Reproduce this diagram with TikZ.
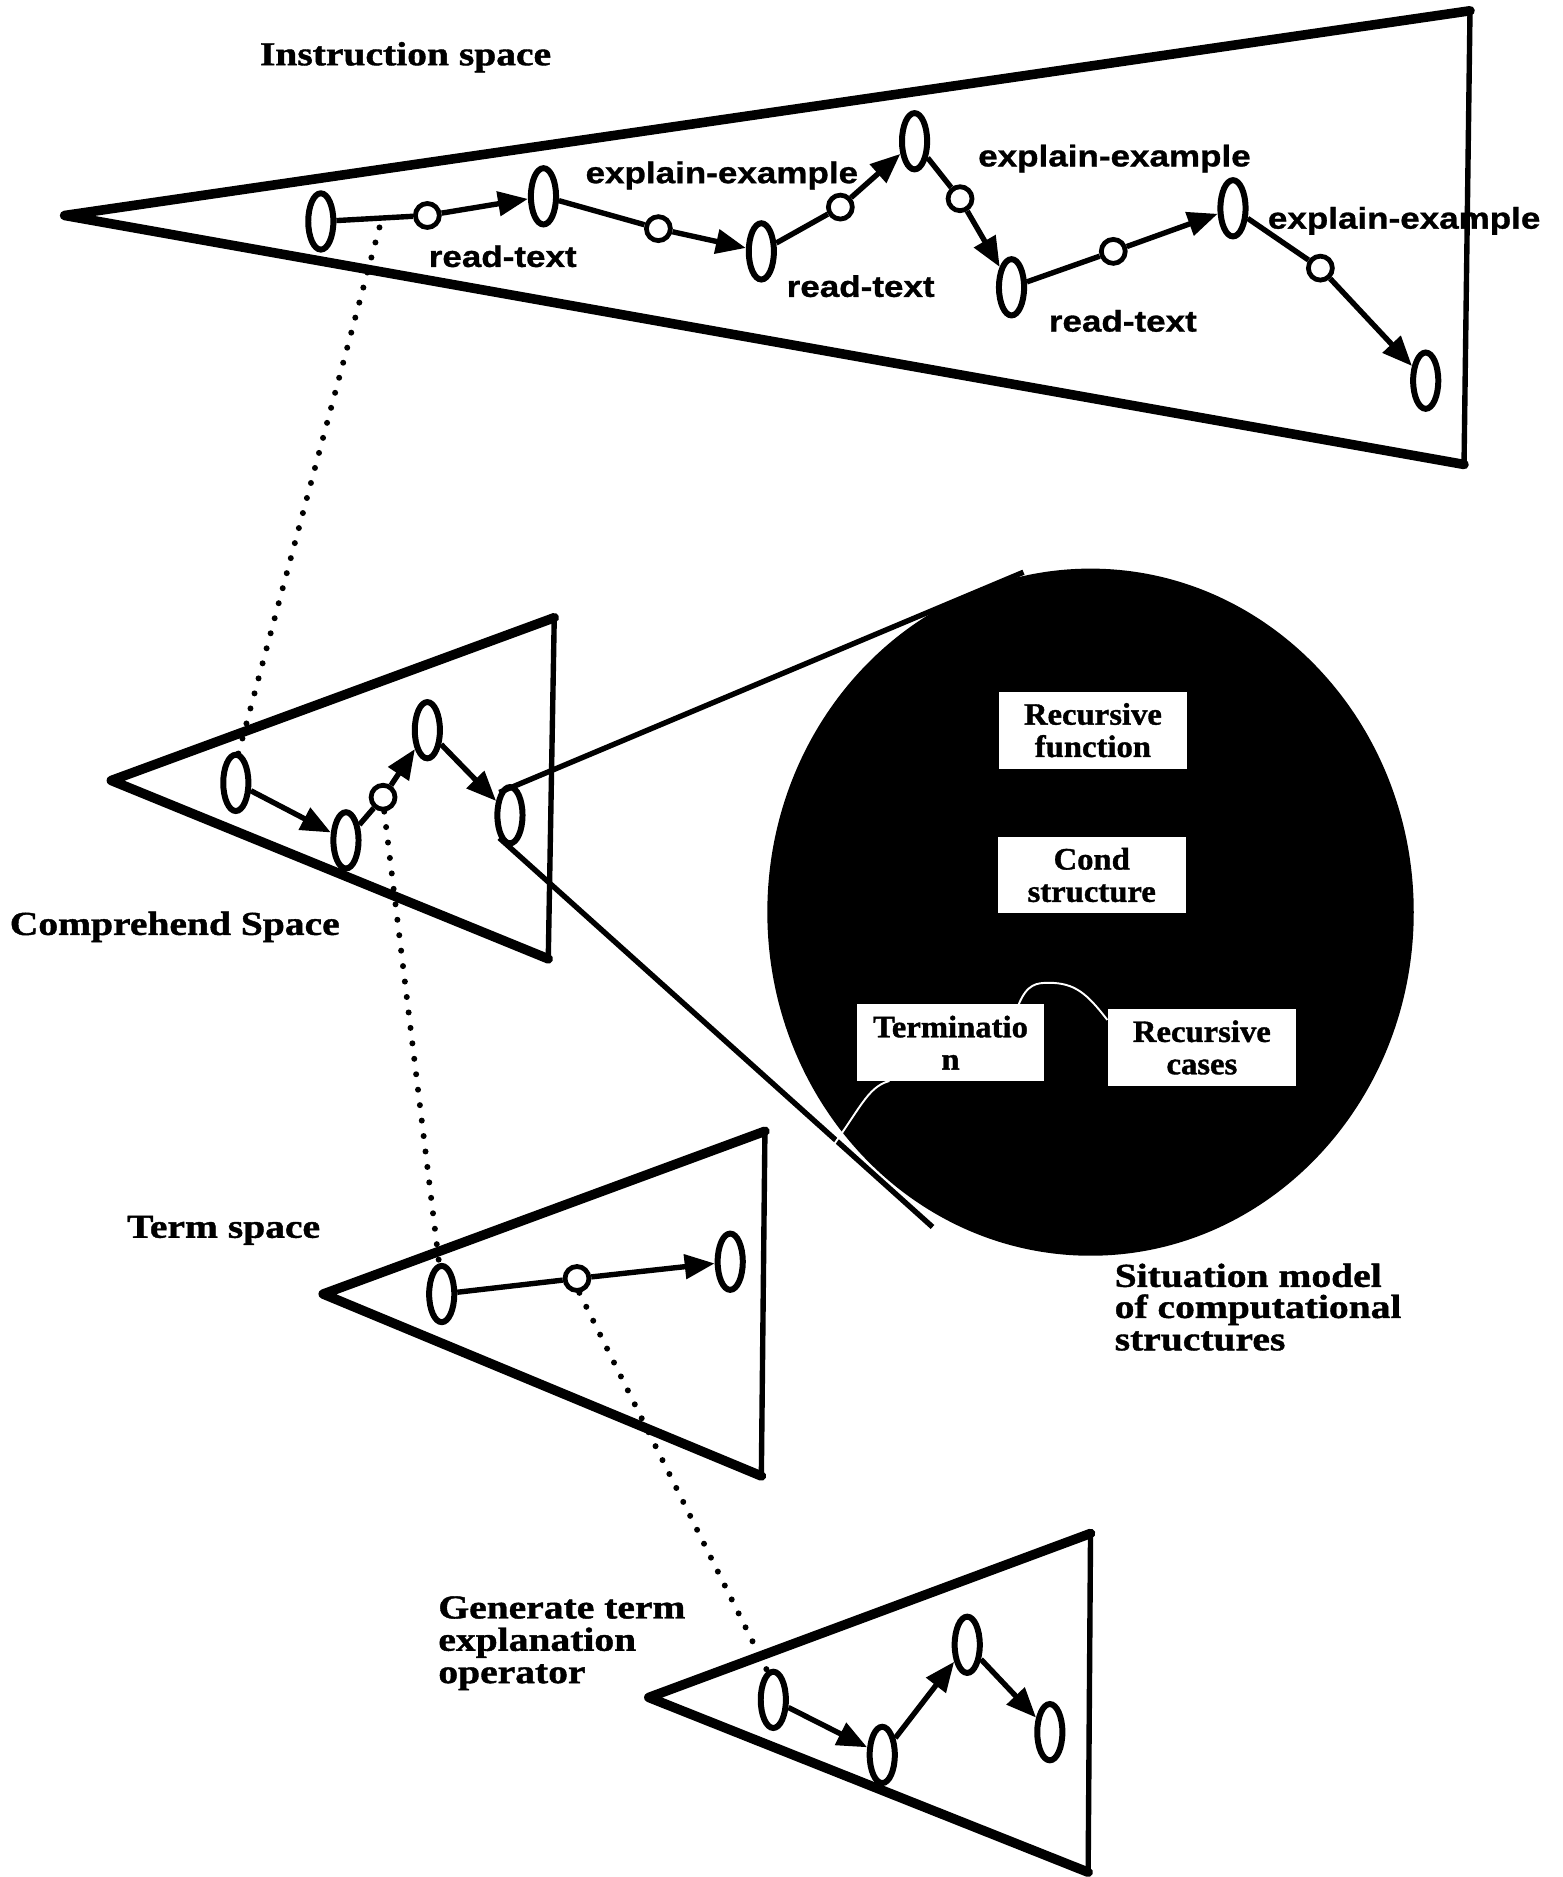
\documentclass[tikz,border=0pt]{standalone}
\usepackage{fontspec}
\setmainfont{Liberation Serif}
\newfontfamily\labfont[FakeStretch=1.18,FakeBold=1.2]{Liberation Serif Bold}
\newfontfamily\opfont[FakeStretch=1.17,FakeBold=1]{Liberation Sans Bold}
\newfontfamily\boxfont[FakeStretch=1.05,FakeBold=1.2]{Liberation Serif Bold}
\usetikzlibrary{shapes.geometric,arrows.meta}
\begin{document}
\begin{tikzpicture}[x=1pt,y=-1pt,
  slant/.style={line width=8pt, line cap=round, line join=round},
  rim/.style={line width=4.5pt, line cap=round},
  st/.style={ellipse, draw, fill=white, line width=5pt, minimum width=21pt, minimum height=47pt, inner sep=0pt},
  op/.style={circle, draw, fill=white, line width=4pt, minimum size=20pt, inner sep=0pt},
  link/.style={line width=4.5pt},
  arr/.style={line width=4.5pt, -{Triangle[length=25pt,width=20pt]}},
  dots/.style={line width=5pt, line cap=round, dash pattern=on 0pt off 13pt},
  lab/.style={font=\labfont\fontsize{28}{28}\selectfont, inner sep=0pt, anchor=base west},
  oplab/.style={font=\opfont\fontsize{25}{25}\selectfont, inner sep=0pt, anchor=base west},
  box/.style={fill=white, minimum width=157pt, minimum height=64pt, align=center, font=\boxfont\fontsize{26}{27}\selectfont, inner sep=0pt},
  wcurve/.style={white, line width=1.6pt}
]
\useasboundingbox (0,0) rectangle (1305,1568);

% ---------- situation model circle ----------
\node[ellipse, fill=black, minimum width=540pt, minimum height=574pt, inner sep=0pt] (sit) at (911,762) {};

% ---------- triangles ----------
\coordinate (Itip) at (54,180);   \coordinate (Itr) at (1228,9);   \coordinate (Ibr) at (1223,388);
\coordinate (Ctip) at (93,652);   \coordinate (Ctr) at (463,516);  \coordinate (Cbr) at (458,801);
\coordinate (Ttip) at (270,1081); \coordinate (Ttr) at (639,945);  \coordinate (Tbr) at (636,1233);
\coordinate (Gtip) at (542,1418); \coordinate (Gtr) at (911,1281); \coordinate (Gbr) at (909,1564);
\foreach \s in {I,C,T,G}{
  \draw[slant] (\s tr) -- (\s tip) -- (\s br);
  \draw[rim] (\s tr) -- (\s br);
}

% ---------- labels ----------
\node[lab] (linst) at (217,54.5) {Instruction space};
\node[lab] (lcomp) at (8,781) {Comprehend Space};
\node[lab] (lterm) at (106,1034) {Term space};
\node[lab] (lsit1) at (931,1075) {Situation model};
\node[lab] (lsit2) at (931,1101) {of computational};
\node[lab] (lsit3) at (931,1128) {structures};
\node[lab] (lgen1) at (366,1352) {Generate term};
\node[lab] (lgen2) at (366,1379) {explanation};
\node[lab] (lgen3) at (366,1406) {operator};

% ---------- dotted links ----------
\coordinate (d1) at (317,190);
\coordinate (C1top) at (199,630);
\coordinate (cctop) at (321,678);
\coordinate (T1top) at (367,1057);
\coordinate (tctop) at (484,1080);
\coordinate (G1top) at (641,1396);
\draw[dots] (d1) -- (C1top);
\draw[dots] (cctop) -- (T1top);
\draw[dots] (tctop) -- (G1top);

% ---------- instruction space ----------
\node[st] (E1) at (268,185) {};
\node[op] (c1) at (357,180) {};
\node[st] (E2) at (454,164) {};
\node[op] (c2) at (550,191) {};
\node[st] (E3) at (636,210) {};
\node[op] (c3) at (702,173) {};
\node[st] (E4) at (764,118) {};
\node[op] (c4) at (802,166) {};
\node[st] (E5) at (845,240) {};
\node[op] (c5) at (930,210) {};
\node[st] (E6) at (1030,174) {};
\node[op] (c6) at (1103,224) {};
\node[st] (E7) at (1191,318) {};
\draw[link] (E1) -- (c1);  \draw[arr] (c1) -- (E2);
\draw[link] (E2) -- (c2);  \draw[arr] (c2) -- (E3);
\draw[link] (E3) -- (c3);  \draw[arr] (c3) -- (E4);
\draw[link] (E4) -- (c4);  \draw[arr] (c4) -- (E5);
\draw[link] (E5) -- (c5);  \draw[arr] (c5) -- (E6);
\draw[link] (E6) -- (c6);  \draw[arr] (c6) -- (E7);

\node[oplab] (r1) at (358,223) {read-text};
\node[oplab] (x1) at (489,153) {explain-example};
\node[oplab] (r2) at (657,248) {read-text};
\node[oplab] (x2) at (817,139) {explain-example};
\node[oplab] (r3) at (876,277) {read-text};
\node[oplab] (x3) at (1059,191) {explain-example};

% ---------- comprehend space ----------
\node[st] (C1) at (197,654) {};
\node[st] (C2) at (289,702) {};
\node[op] (cc) at (320,666) {};
\node[st] (C3) at (357,610) {};
\node[st] (C4) at (426,681) {};
\draw[arr] (C1) -- (C2);
\draw[link] (C2) -- (cc);
\draw[arr] (cc) -- (C3);
\draw[arr] (C3) -- (C4);

% zoom lines to the situation model
\coordinate (zt) at (855,478);
\coordinate (zb) at (779,1025);
\draw[link] (C4.115) -- (zt);
\draw[link] (C4.245) -- (zb);

% ---------- situation model content ----------
\node[box] (RF) at (913,610) {Recursive\\function};
\node[box] (CS) at (912,731) {Cond\\structure};
\node[box] (TM) at (794,871) {Terminatio\\n};
\node[box] (RC) at (1004,875) {Recursive\\cases};
\coordinate (w1) at (851,839);
\coordinate (w2) at (925,852);
\coordinate (w3) at (743,903);
\coordinate (w4) at (690,965);
\draw[wcurve] (w1) .. controls (858,822) and (866,821) .. (876,821) .. controls (898,821) and (908,830) .. (w2);
\draw[wcurve] (w3) .. controls (724,908) and (718,928) .. (w4);

% ---------- term space ----------
\node[st] (T1) at (369,1081) {};
\node[op] (tc) at (482,1068) {};
\node[st] (T2) at (610,1054) {};
\draw[link] (T1) -- (tc);
\draw[arr] (tc) -- (T2);

% ---------- generate term explanation operator ----------
\node[st] (G1) at (646,1420) {};
\node[st] (G2) at (737,1466) {};
\node[st] (G3) at (808,1374) {};
\node[st] (G4) at (877,1447) {};
\draw[arr] (G1) -- (G2);
\draw[arr] (G2) -- (G3);
\draw[arr] (G3) -- (G4);
\end{tikzpicture}
\end{document}
